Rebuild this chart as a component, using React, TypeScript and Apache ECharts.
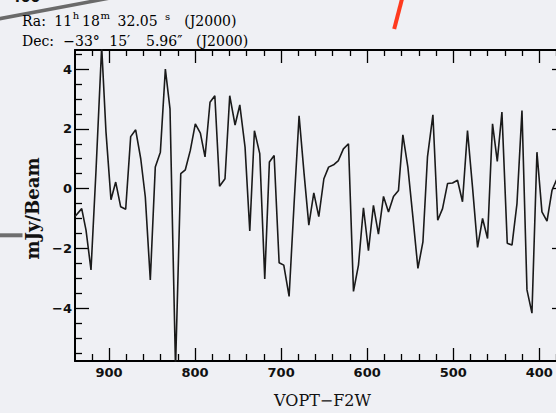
import { useEffect, useRef } from "react";
import * as echarts from "echarts";

// Spectrum: optical velocity (km/s) vs flux density (mJy/Beam)
const velocities = [
  939.5, 931.7, 926.7, 920.9, 915.1, 908.5, 903.5, 897.7, 892.2, 886.4,
  880.6, 874.8, 869.0, 863.1, 857.8, 852.0, 846.2, 840.3, 834.5, 829.1,
  822.7, 816.6, 811.3, 805.5, 799.7, 793.8, 788.4, 782.6, 777.0, 771.5,
  765.2, 759.7, 753.5, 748.0, 741.9, 736.4, 731.0, 724.8, 719.0, 713.6,
  708.1, 702.3, 696.9, 690.7, 684.9, 679.1, 673.3, 667.8, 662.0, 656.2,
  650.3, 644.8, 638.4, 633.4, 627.6, 621.7, 615.9, 610.1, 604.3, 598.5,
  592.7, 586.9, 581.0, 575.2, 569.4, 563.6, 558.5, 552.7, 546.9, 541.0,
  535.2, 529.9, 523.6, 518.0, 512.4, 506.6, 500.8, 495.0, 489.2, 483.4,
  477.6, 471.7, 465.9, 460.1, 454.3, 448.8, 443.4, 437.2, 431.7, 425.9,
  420.1, 414.3, 408.5, 402.7, 396.9, 391.0, 385.2, 379.4,
];
const flux = [
  -0.93, -0.67, -1.39, -2.72, 0.6, 4.75, 1.9, -0.37, 0.22, -0.61,
  -0.69, 1.74, 1.97, 1.0, -0.28, -3.06, 0.72, 1.22, 4.0, 2.67,
  -6.0, 0.5, 0.63, 1.28, 2.17, 1.86, 1.06, 2.89, 3.11, 0.08,
  0.33, 3.11, 2.13, 2.8, 1.39, -1.42, 1.94, 1.17, -3.02, 0.89,
  1.11, -2.48, -2.56, -3.61, -0.5, 2.44, 0.5, -1.22, -0.14, -0.94,
  0.33, 0.72, 0.81, 0.94, 1.33, 1.5, -3.44, -2.56, -0.64, -2.08,
  -0.56, -1.52, -0.26, -0.78, -0.26, -0.06, 1.8, 0.72, -0.94, -2.67,
  -1.78, 1.06, 2.47, -1.06, -0.67, 0.17, 0.19, 0.28, -0.44, 1.94,
  0.06, -1.97, -1.0, -1.67, 2.17, 0.91, 2.56, -1.83, -1.89, -0.5,
  2.61, -3.39, -4.17, 1.22, -0.78, -1.09, -0.06, 0.33,
];

const xRange = [370.1, 939.5];
const yRange = [-5.77, 4.64];
const xMajorTicks = [900, 800, 700, 600, 500, 400];
const xMinorTicks = [
  380, 420, 440, 460, 480, 520, 540, 560, 580, 620, 640, 660, 680,
  720, 740, 760, 780, 820, 840, 860, 880, 920,
];
const yMajorTicks = [-4, -2, 0, 2, 4];
const yMinorTicks = [
  -5.5, -5, -4.5, -3.5, -3, -2.5, -1.5, -1, -0.5, 0.5, 1, 1.5, 2.5, 3, 3.5, 4.5,
];
const xAxisTitle = "VOPT−F2W";
const yAxisTitle = "mJy/Beam";
const raTokens = ["Ra:", "11", "h", "18", "m", "32.05", "s", "(J2000)"];
const decTokens = ["Dec:", "−33°", "15′", "5.96″", "(J2000)"];
const cutLabel = "400";

const BG = "#eff0f4";
const INK = "#111";
const SERIF = "'DejaVu Serif', 'Liberation Serif', serif";
const SANS = "'DejaVu Sans', 'Liberation Sans', sans-serif";

function App() {
  const ref = useRef<HTMLDivElement>(null);

  useEffect(() => {
    if (!ref.current) return;
    const chart = echarts.init(ref.current, null, { renderer: "svg" });

    const fmt = (v: number) => String(v).replace("-", "−");
    const tickLine = { color: "#000", width: 1.3 };
    const axisLine = { show: true, onZero: false, lineStyle: { color: "#000", width: 2 } };
    const noLine = { show: false, onZero: false };

    const xBase = {
      type: "value" as const,
      gridIndex: 0,
      inverse: true,
      min: xRange[0],
      max: xRange[1],
      splitLine: { show: false },
    };
    const yBase = {
      type: "value" as const,
      gridIndex: 0,
      min: yRange[0],
      max: yRange[1],
      splitLine: { show: false },
    };

    // text measurement to flow header tokens without overlap
    const ctx = document.createElement("canvas").getContext("2d");
    const measure = (t: string, size: number) => {
      if (!ctx) return t.length * size * 0.6;
      ctx.font = `${size}px 'DejaVu Serif'`;
      return ctx.measureText(t).width;
    };

    const flow = (tokens: string[], refX: number[], sizes: number[], ys: number[]) => {
      const out: any[] = [];
      let end = -Infinity;
      tokens.forEach((t, i) => {
        const x = Math.max(refX[i], end + 0.6);
        const w = measure(t, sizes[i]);
        end = x + w;
        out.push({
          type: "text",
          x,
          y: ys[i],
          silent: true,
          style: {
            text: t,
            fontFamily: SERIF,
            fontSize: sizes[i],
            fill: "#000",
            align: "left",
            verticalAlign: "middle",
          },
        });
      });
      return out;
    };

    const raX = [22, 54.3, 67, 82, 97, 117.6, 165, 184.3];
    const raY = [20.8, 20.8, 15.8, 20.8, 15.8, 20.8, 16.5, 20.8];
    const raSize = [14, 14, 10, 14, 10, 14, 10, 14];
    const decX = [22, 63.3, 109.3, 146, 196];
    const decY = [41.4, 41.4, 41.4, 41.4, 41.4];
    const decSize = [14, 14, 14, 14, 14];

    const option = {
      animation: false,
      backgroundColor: BG,
      grid: { left: 75, right: 5, top: 50, bottom: 50, containLabel: false },
      xAxis: [
        {
          ...xBase,
          position: "bottom",
          axisLine,
          axisTick: { show: true, inside: true, length: 13, lineStyle: tickLine, customValues: xMajorTicks },
          axisLabel: {
            show: true,
            customValues: xMajorTicks,
            margin: 5,
            fontFamily: SANS,
            fontSize: 13,
            fontWeight: "bold",
            color: INK,
            formatter: fmt,
          },
          name: xAxisTitle,
          nameLocation: "middle",
          nameGap: 31,
          nameTextStyle: { fontFamily: SERIF, fontSize: 16, color: INK, padding: [0, 0, 0, 5] },
        },
        {
          ...xBase,
          position: "bottom",
          axisLine: noLine,
          axisTick: { show: true, inside: true, length: 7, lineStyle: tickLine, customValues: xMinorTicks },
          axisLabel: { show: false },
        },
        {
          ...xBase,
          position: "top",
          axisLine,
          axisTick: { show: true, inside: true, length: 13, lineStyle: tickLine, customValues: xMajorTicks },
          axisLabel: { show: false },
        },
        {
          ...xBase,
          position: "top",
          axisLine: noLine,
          axisTick: { show: true, inside: true, length: 6, lineStyle: tickLine, customValues: xMinorTicks },
          axisLabel: { show: false },
        },
      ],
      yAxis: [
        {
          ...yBase,
          position: "left",
          axisLine,
          axisTick: { show: true, inside: true, length: 14, lineStyle: tickLine, customValues: yMajorTicks },
          axisLabel: {
            show: true,
            customValues: yMajorTicks,
            margin: 3,
            fontFamily: SANS,
            fontSize: 13,
            fontWeight: "bold",
            color: INK,
            formatter: fmt,
          },
          name: yAxisTitle,
          nameLocation: "middle",
          nameGap: 32,
          nameTextStyle: {
            fontFamily: SERIF,
            fontSize: 18,
            fontWeight: "bold",
            color: INK,
            padding: [0, 6, 0, 0],
          },
        },
        {
          ...yBase,
          position: "left",
          axisLine: noLine,
          axisTick: { show: true, inside: true, length: 7, lineStyle: tickLine, customValues: yMinorTicks },
          axisLabel: { show: false },
        },
        {
          ...yBase,
          position: "right",
          axisLine,
          axisTick: { show: true, inside: true, length: 13, lineStyle: tickLine, customValues: yMajorTicks },
          axisLabel: { show: false },
        },
        {
          ...yBase,
          position: "right",
          axisLine: noLine,
          axisTick: { show: true, inside: true, length: 7, lineStyle: tickLine, customValues: yMinorTicks },
          axisLabel: { show: false },
        },
      ],
      series: [
        {
          type: "line",
          xAxisIndex: 0,
          yAxisIndex: 0,
          data: velocities.map((v, i) => [v, flux[i]]),
          symbol: "none",
          clip: true,
          lineStyle: { color: "#1a1a1a", width: 1.6 },
        },
      ],
      graphic: [
        {
          type: "line",
          silent: true,
          shape: { x1: -2, y1: 19, x2: 110, y2: -2 },
          style: { stroke: "#6a6a6a", lineWidth: 3.5 },
        },
        {
          type: "line",
          silent: true,
          shape: { x1: 0, y1: 235.3, x2: 22.5, y2: 235.3 },
          style: { stroke: "#6e6e6e", lineWidth: 4 },
        },
        {
          type: "line",
          silent: true,
          shape: { x1: 402.5, y1: -3, x2: 394.2, y2: 29 },
          style: { stroke: "#ff3a1e", lineWidth: 4 },
        },
        {
          type: "text",
          x: 11,
          y: -3,
          silent: true,
          style: {
            text: cutLabel,
            fontFamily: SANS,
            fontSize: 14,
            fontWeight: "bold",
            fill: INK,
            align: "left",
            verticalAlign: "middle",
          },
        },
        ...flow(raTokens, raX, raSize, raY),
        ...flow(decTokens, decX, decSize, decY),
      ],
    };

    chart.setOption(option as any);
    return () => chart.dispose();
  }, []);

  return (
    <div
      ref={ref}
      style={{ position: "fixed", left: 0, top: 0, width: 570, height: 413, background: BG }}
    />
  );
}

export default App;
